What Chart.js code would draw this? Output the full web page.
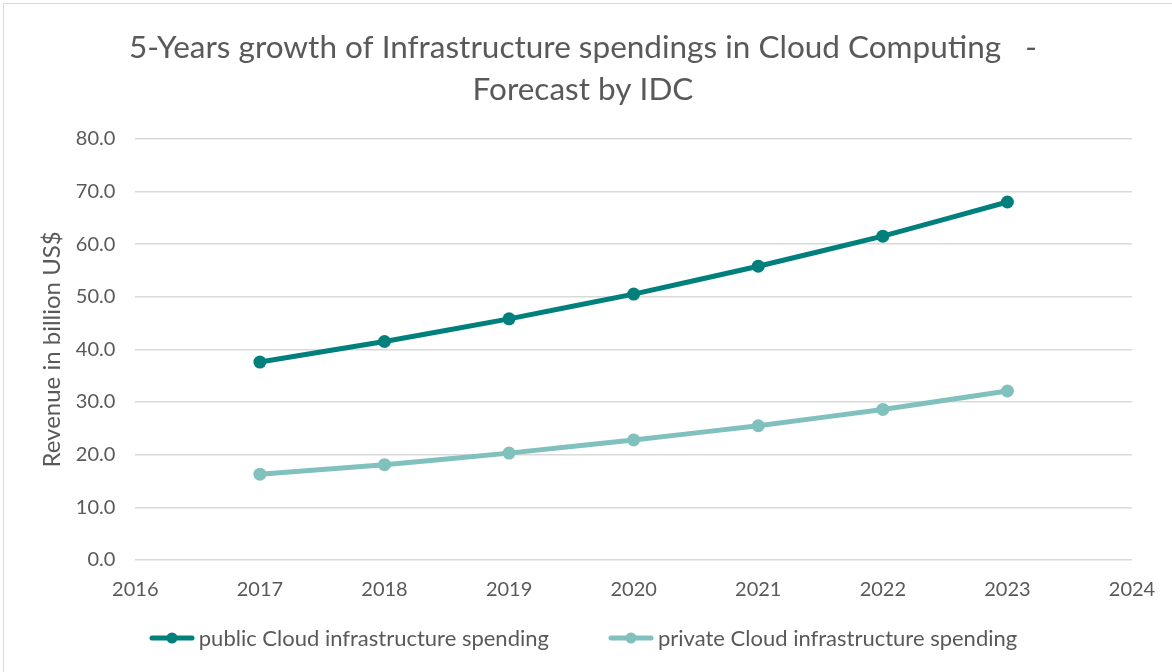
<!DOCTYPE html>
<html>
<head>
<meta charset="utf-8">
<script src="https://cdn.jsdelivr.net/npm/chart.js@4.4.0/dist/chart.umd.min.js"></script>
<style>
  body { margin: 0; background: #fff; }
  #wrap { position: absolute; left: 3px; top: 3px; width: 1172px; height: 672px; border-left: 1px solid #d9d9d9; border-top: 1px solid #d9d9d9; }
  #chart { position: absolute; left: -4px; top: -4px; }
  #legend { position: absolute; left: -7px; top: 620px; width: 1172px; display: flex; justify-content: center; gap: 59px;
            font-family: Lato; font-size: 22px; color: #595959; }
  #legend .item { display: flex; align-items: center; gap: 4px; }
</style>
</head>
<body>
<div id="wrap"><canvas id="chart" width="1172" height="672"></canvas><div id="legend"></div></div>
<script>
// Revenue in billion US$
const years = [2017, 2018, 2019, 2020, 2021, 2022, 2023];
const publicSpending = [37.6, 41.5, 45.8, 50.5, 55.8, 61.5, 68.0];
const privateSpending = [16.3, 18.1, 20.3, 22.8, 25.5, 28.6, 32.1];
const yTicks = [0, 10, 20, 30, 40, 50, 60, 70, 80];

const darkTeal = '#00807c';
const lightTeal = '#80c1be';
const textGrey = '#595959';

// legend marker: short thick line with a dot in the middle
function legendMarker(color) {
    const c = document.createElement('canvas');
    c.width = 46; c.height = 14;
    const g = c.getContext('2d');
    g.strokeStyle = color;
    g.lineWidth = 5;
    g.lineCap = 'round';
    g.beginPath(); g.moveTo(3, 7); g.lineTo(43, 7); g.stroke();
    g.fillStyle = color;
    g.beginPath(); g.arc(23, 7, 5.5, 0, Math.PI * 2); g.fill();
    return c;
}

const ctx = document.getElementById('chart').getContext('2d');
const chart = new Chart(ctx, {
    type: 'line',
    data: {
        datasets: [
            {
                label: 'public Cloud infrastructure spending',
                data: years.map((y, i) => ({ x: y, y: publicSpending[i] })),
                borderColor: darkTeal,
                backgroundColor: darkTeal,
                borderWidth: 5,
                pointRadius: 6.5,
                pointBorderWidth: 0,
                tension: 0.05
            },
            {
                label: 'private Cloud infrastructure spending',
                data: years.map((y, i) => ({ x: y, y: privateSpending[i] })),
                borderColor: lightTeal,
                backgroundColor: lightTeal,
                borderWidth: 5,
                pointRadius: 6.5,
                pointBorderWidth: 0,
                tension: 0.05
            }
        ]
    },
    options: {
        responsive: false,
        animation: false,
        layout: { padding: { left: 34, right: 40, top: 27, bottom: 60 } },
        plugins: {
            title: {
                display: true,
                text: ['5-Years growth of Infrastructure spendings in Cloud Computing   -', 'Forecast by IDC'],
                color: textGrey,
                font: { family: 'Lato', size: 31.5, weight: 'normal', lineHeight: 1.33 },
                padding: { top: 0, bottom: 28 }
            },
            legend: { display: false },
            tooltip: { enabled: false }
        },
        scales: {
            x: {
                type: 'linear',
                min: 2016,
                max: 2024,
                grid: { display: false },
                border: { display: false },
                ticks: {
                    stepSize: 1,
                    color: textGrey,
                    font: { family: 'Lato', size: 20 },
                    padding: 10,
                    callback: v => String(v)
                }
            },
            y: {
                min: 0,
                max: 80,
                afterBuildTicks: axis => { axis.ticks = yTicks.map(v => ({ value: v })); },
                afterFit: axis => { axis.width -= 20; },
                grid: { color: '#d9d9d9', lineWidth: 1.5, drawTicks: false },
                border: { display: false },
                title: {
                    display: true,
                    text: 'Revenue in billion US$',
                    color: textGrey,
                    font: { family: 'Lato', size: 24 },
                    padding: { top: 4, bottom: 9 }
                },
                ticks: {
                    color: textGrey,
                    font: { family: 'Lato', size: 20 },
                    padding: 20,
                    callback: v => v.toFixed(1)
                }
            }
        }
    }
});

// html legend built from the datasets
const legendBox = document.getElementById('legend');
chart.data.datasets.forEach(ds => {
    const item = document.createElement('div');
    item.className = 'item';
    item.appendChild(legendMarker(ds.borderColor));
    const label = document.createElement('span');
    label.textContent = ds.label;
    item.appendChild(label);
    legendBox.appendChild(item);
});
</script>
</body>
</html>
